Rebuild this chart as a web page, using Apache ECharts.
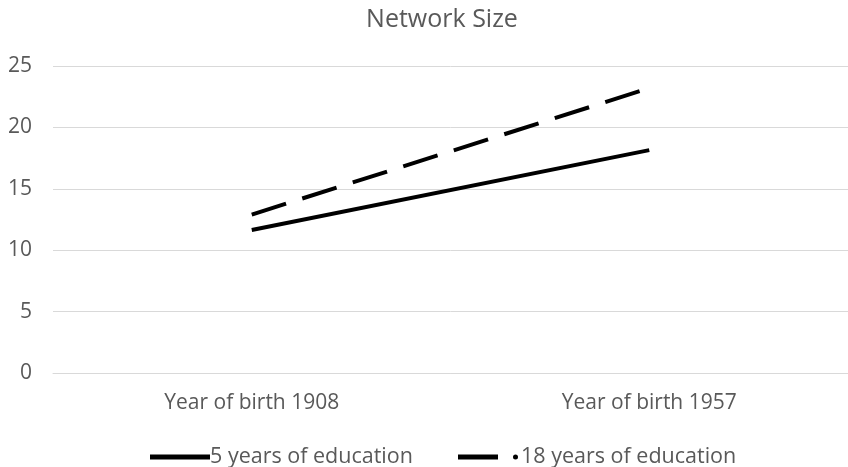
<!DOCTYPE html>
<html>
<head>
<meta charset="utf-8">
<script src="https://cdn.jsdelivr.net/npm/echarts@6/dist/echarts.min.js"></script>
<style>
  html, body { margin: 0; padding: 0; background: #fff; }
  #chart { width: 848px; height: 467px; }
</style>
</head>
<body>
<div id="chart"></div>
<script>
const categories = ["Year of birth 1908", "Year of birth 1957"]
const lowEducation = [11.65, 18.15]
const highEducation = [12.9, 23.2]
const seriesNames = ["5 years of education", "18 years of education"]

const textColor = "#595959"
const font = "'Open Sans', sans-serif"

const chart = echarts.init(document.getElementById("chart"))

const option = {
  backgroundColor: "#fff",
  animation: false,
  title: {
    text: "Network Size",
    left: 437,
    textAlign: "center",
    top: 2,
    textStyle: { fontSize: 25, fontWeight: "normal", color: textColor, fontFamily: font },
  },
  legend: [
    {
      data: [{ name: seriesNames[0], icon: "rect" }],
      left: 145,
      top: 441,
      itemWidth: 60,
      itemHeight: 5,
      textStyle: { fontSize: 21.5, color: textColor, fontFamily: font, padding: [0, 0, 0, -5] },
    },
    {
      // dash then a small round dot, as in the original legend key
      data: [{ name: seriesNames[1], icon: "path://M0,0h40v5h-40z M55,2.5a2.5,2.5 0 1,0 5,0a2.5,2.5 0 1,0 -5,0z" }],
      left: 453,
      top: 441,
      itemWidth: 60,
      itemHeight: 5,
      textStyle: { fontSize: 21.5, color: textColor, fontFamily: font, padding: [0, 0, 0, -2] },
    },
  ],
  grid: { left: 53, right: -5, top: 66, bottom: 94 },
  xAxis: {
    type: "category",
    data: categories,
    axisLine: { lineStyle: { color: "#d9d9d9" } },
    axisTick: { show: false },
    axisLabel: { color: textColor, fontSize: 21, fontFamily: font, margin: 20 },
  },
  yAxis: {
    type: "value",
    min: 0,
    max: 25,
    interval: 5,
    axisLine: { show: false },
    axisTick: { show: false },
    axisLabel: { color: textColor, fontSize: 21, fontFamily: font, margin: 21 },
    splitLine: { lineStyle: { color: "#d9d9d9", width: 1 } },
  },
  series: [
    {
      name: seriesNames[0],
      type: "line",
      data: lowEducation,
      symbol: "none",
      lineStyle: { color: "#000", width: 4 },
      itemStyle: { color: "#000" },
    },
    {
      name: seriesNames[1],
      type: "line",
      data: highEducation,
      symbol: "none",
      lineStyle: { color: "#000", width: 4, type: [36, 17] },
      itemStyle: { color: "#000" },
    },
  ],
}

chart.setOption(option)
</script>
</body>
</html>
